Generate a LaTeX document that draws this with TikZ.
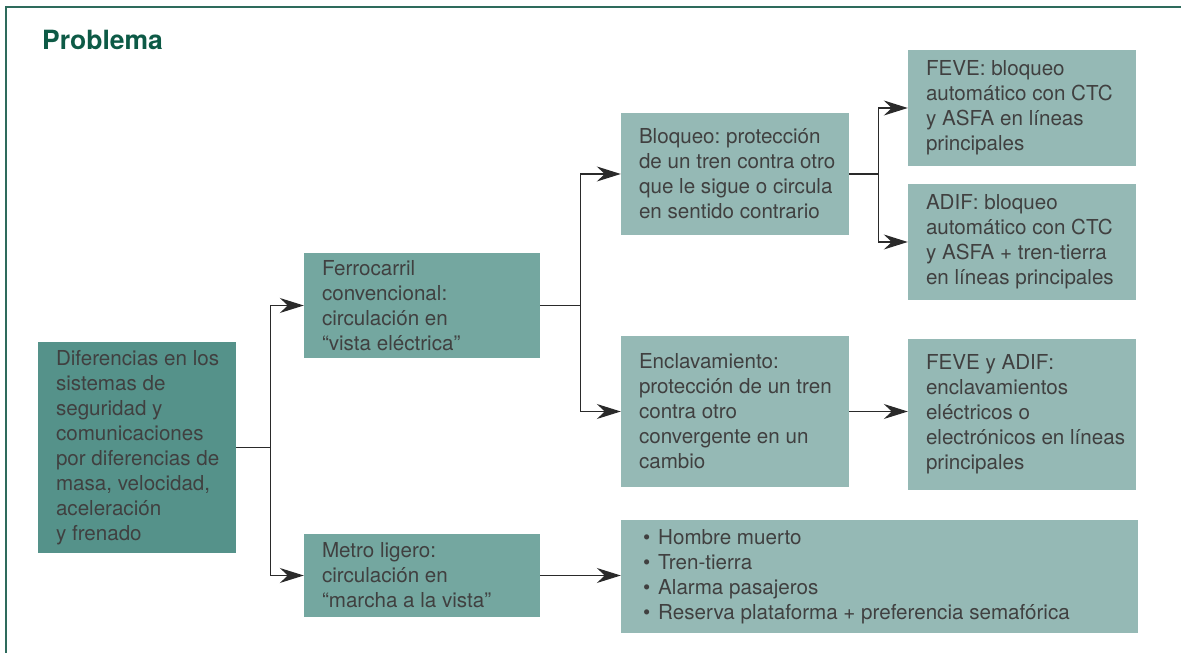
\documentclass[tikz,border=0pt]{standalone}
\usepackage{fontspec}
\setmainfont{TeX Gyre Heros}
\usetikzlibrary{arrows.meta,calc}
\frenchspacing
\definecolor{frameC}{HTML}{2E6B5C}
\definecolor{titleC}{HTML}{0D5A46}
\definecolor{darkbox}{HTML}{55928A}
\definecolor{midbox}{HTML}{74A7A0}
\definecolor{lightbox}{HTML}{95B9B5}
\definecolor{txt}{HTML}{404040}
\definecolor{lineC}{HTML}{2A2A2A}
\tikzset{
  box/.style={draw=none, inner sep=0pt, anchor=center},
  lbl/.style={inner sep=0pt, align=left, text=txt, anchor=west,
    font=\fontsize{20.6}{25}\selectfont\frenchspacing},
  conn/.style={draw=lineC, line width=1.2pt},
  arr/.style={conn, -{Stealth[length=24pt,width=15pt,inset=8pt]}},
}
\begin{document}
\begin{tikzpicture}[x=1pt,y=1pt]
\useasboundingbox (0,0) rectangle (1181,653);
\draw[frameC, line width=2pt] (6,0) -- (6,645.5) -- (1181,645.5);
\node[anchor=base west, text=titleC, font=\fontsize{26.5}{30}\selectfont\bfseries, inner sep=0pt] (title) at (42,603) {Problema};

\node[box, fill=darkbox, minimum width=198pt, minimum height=211pt] (left) at (137,205.5) {};
\node[lbl] (leftT) at ($(left.west)+(18,0)$)
 {Diferencias en los\\sistemas de\\seguridad y\\comunicaciones\\por diferencias de\\masa, velocidad,\\aceleración\\y frenado};
\node[box, fill=midbox, minimum width=236pt, minimum height=105pt] (ferro) at (422,347.5) {};
\node[lbl] (ferroT) at ($(ferro.west)+(18,0)$)
 {Ferrocarril\\convencional:\\circulación en\\“vista eléctrica”};
\node[box, fill=midbox, minimum width=236pt, minimum height=83pt] (metro) at (422,77.5) {};
\node[lbl] (metroT) at ($(metro.west)+(18,0)$)
 {Metro ligero:\\circulación en\\“marcha a la vista”};
\node[box, fill=lightbox, minimum width=228pt, minimum height=122pt] (bloq) at (735,479) {};
\node[lbl] (bloqT) at ($(bloq.west)+(18,0)$)
 {Bloqueo: protección\\de un tren contra otro\\que le sigue o circula\\en sentido contrario};
\node[box, fill=lightbox, minimum width=228pt, minimum height=151pt] (encl) at (735,241.5) {};
\node[lbl] (enclT) at ($(encl.west)+(18,0)$)
 {Enclavamiento:\\protección de un tren\\contra otro\\convergente en un\\cambio};
\node[box, fill=lightbox, minimum width=228pt, minimum height=116pt] (feve) at (1022,545) {};
\node[lbl] (feveT) at ($(feve.west)+(18,0)$)
 {FEVE: bloqueo\\automático con CTC\\y ASFA en líneas\\principales};
\node[box, fill=lightbox, minimum width=228pt, minimum height=116pt] (adif) at (1022,411) {};
\node[lbl] (adifT) at ($(adif.west)+(18,0)$)
 {ADIF: bloqueo\\automático con CTC\\y ASFA + tren-tierra\\en líneas principales};
\node[box, fill=lightbox, minimum width=228pt, minimum height=151pt] (feveadif) at (1022,238.5) {};
\node[lbl] (feveadifT) at ($(feveadif.west)+(18,0)$)
 {FEVE y ADIF:\\enclavamientos\\eléctricos o\\electrónicos en líneas\\principales};
\node[box, fill=lightbox, minimum width=517pt, minimum height=113pt] (bul) at (879.5,76.5) {};
\node[lbl] (bulT) at ($(bul.west)+(22,0)$)
 {\textbullet\hspace{8pt}Hombre muerto\\\textbullet\hspace{8pt}Tren-tierra\\\textbullet\hspace{8pt}Alarma pasajeros\\\textbullet\hspace{8pt}Reserva plataforma + preferencia semafórica};

\draw[conn] (left.east) -- ++(34,0) coordinate (j1);
\draw[arr] (j1) |- (ferro.west);
\draw[arr] (j1) |- (metro.west);
\draw[conn] (ferro.east) -- ++(40,0) coordinate (j2);
\draw[arr] (j2) |- (bloq.west);
\draw[arr] (j2) |- (encl.west);
\draw[conn] (bloq.east) -- ++(29,0) coordinate (j3);
\draw[arr] (j3) |- (feve.west);
\draw[arr] (j3) |- (adif.west);
\draw[arr] (encl.east) -- (encl.east -| feveadif.west);
\draw[arr] (metro.east) -- (metro.east -| bul.west);
\end{tikzpicture}
\end{document}
